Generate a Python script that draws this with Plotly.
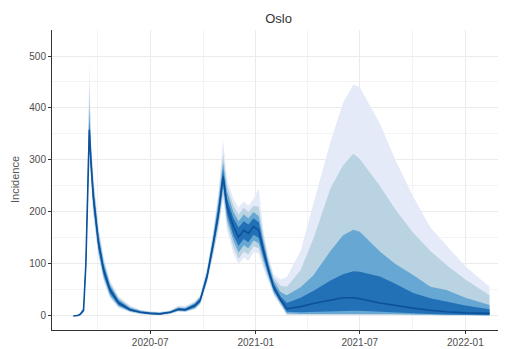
import plotly.graph_objects as go

dates = ["2020-02-18", "2020-02-26", "2020-03-01", "2020-03-07", "2020-03-11", "2020-03-14",
         "2020-03-17", "2020-03-20", "2020-03-24", "2020-04-02", "2020-04-11", "2020-04-22",
         "2020-05-07", "2020-05-27", "2020-06-14", "2020-07-01", "2020-07-18", "2020-08-05",
         "2020-08-19", "2020-08-31", "2020-09-17", "2020-09-26", "2020-10-08", "2020-10-19",
         "2020-10-28", "2020-11-05", "2020-11-12", "2020-11-23", "2020-12-02", "2020-12-11",
         "2020-12-19", "2020-12-28", "2021-01-06", "2021-01-14", "2021-01-23", "2021-02-01",
         "2021-02-13", "2021-02-24", "2021-03-20", "2021-04-11", "2021-05-11", "2021-06-02",
         "2021-06-20", "2021-07-01", "2021-08-05", "2021-09-01", "2021-10-02", "2021-11-01",
         "2021-11-29", "2022-01-01", "2022-02-12"]

median = [0, 1, 3, 11, 100, 230, 358, 294, 229, 140, 88, 50, 25, 12, 7, 5, 4, 7, 13, 12, 20, 30,
          76, 140, 198, 268, 210, 172, 152, 165, 159, 172, 165, 127, 88, 56, 31, 14, 18, 24, 31,
          35, 35, 33, 25, 20, 15, 11, 8, 6, 5]

lo50 = [0, 1, 2, 9, 92, 220, 345, 280, 215, 130, 80, 44, 21, 10, 6, 4, 3, 6, 11, 10, 17, 27, 71,
        132, 188, 255, 195, 155, 135, 148, 142, 156, 150, 116, 80, 50, 27, 8, 7, 8, 9, 10, 10,
        10, 8, 7, 5, 4, 3, 2, 2]
hi50 = [0, 1, 4, 13, 108, 242, 375, 308, 242, 150, 96, 56, 29, 14, 8, 6, 5, 8, 15, 14, 23, 33,
        81, 148, 210, 282, 225, 188, 170, 182, 176, 188, 180, 138, 96, 62, 38, 25, 35, 48, 68,
        80, 86, 85, 76, 62, 44, 34, 28, 20, 13]

lo80 = [0, 0, 2, 8, 88, 212, 335, 272, 207, 124, 75, 40, 19, 9, 5, 3, 3, 5, 10, 9, 15, 25, 68,
        127, 180, 245, 185, 145, 122, 136, 130, 145, 140, 108, 75, 46, 25, 5, 4, 4, 5, 5, 5, 5,
        5, 4, 3, 3, 2, 2, 1]
hi80 = [0, 2, 5, 15, 114, 252, 400, 318, 252, 158, 102, 60, 32, 16, 10, 7, 6, 9, 16, 15, 25, 36,
        84, 154, 220, 295, 238, 200, 182, 195, 188, 200, 192, 146, 102, 68, 46, 40, 55, 78, 125,
        155, 166, 162, 124, 100, 79, 56, 50, 35, 21]

lo95 = [0, 0, 1, 7, 85, 205, 325, 265, 200, 118, 71, 37, 17, 8, 4, 3, 2, 4, 9, 8, 14, 23, 65,
        122, 172, 235, 175, 132, 110, 124, 118, 134, 130, 100, 70, 43, 22, 3, 3, 3, 3, 3, 3, 3,
        3, 2, 2, 2, 1, 1, 1]
hi95 = [0, 2, 5, 16, 118, 262, 440, 328, 262, 165, 108, 64, 35, 18, 11, 8, 7, 10, 18, 17, 27, 38,
        88, 160, 230, 312, 250, 212, 195, 208, 200, 212, 210, 155, 108, 74, 58, 56, 88, 148, 245,
        290, 312, 302, 250, 205, 160, 125, 98, 70, 40]

lo99 = [0, 0, 1, 6, 80, 198, 315, 255, 192, 112, 67, 34, 15, 7, 3, 2, 2, 4, 8, 7, 13, 22, 62,
        117, 165, 225, 165, 120, 100, 112, 106, 122, 120, 92, 65, 40, 20, 2, 2, 2, 2, 2, 2, 2,
        2, 1, 1, 1, 1, 1, 0]
hi99 = [0, 3, 6, 18, 125, 275, 488, 345, 272, 172, 114, 68, 38, 20, 12, 9, 8, 11, 20, 19, 29, 40,
        92, 166, 240, 338, 262, 225, 208, 220, 212, 225, 245, 165, 115, 80, 70, 75, 125, 215, 335,
        410, 445, 440, 370, 300, 230, 170, 135, 95, 56]

band_colors = ["#e4eaf7", "#b9d3e2", "#66a7d3", "#2270b6"]
median_color = "#0d519c"

fig = go.Figure()
bands = [(lo99, hi99), (lo95, hi95), (lo80, hi80), (lo50, hi50)]
for (lo, hi), col in zip(bands, band_colors):
    fig.add_trace(go.Scatter(x=dates, y=lo, mode="lines", line=dict(width=0, color=col),
                             showlegend=False, hoverinfo="skip"))
    fig.add_trace(go.Scatter(x=dates, y=hi, mode="lines", line=dict(width=0, color=col),
                             fill="tonexty", fillcolor=col, showlegend=False, hoverinfo="skip"))
fig.add_trace(go.Scatter(x=dates, y=median, mode="lines",
                         line=dict(width=1.6, color=median_color), showlegend=False))

axis_font = dict(family="Liberation Sans, Arial, sans-serif", size=10, color="#4d4d4d")

# The page body adds an 8px offset; figure coordinates are laid out to compensate.
fig.update_layout(
    width=498, height=341,
    margin=dict(l=44, r=1, t=22, b=19),
    paper_bgcolor="white", plot_bgcolor="white",
    font=dict(family="Liberation Sans, Arial, sans-serif", color="#333333"),
    title=dict(text="Oslo", x=0.5, xref="paper", xanchor="center", y=1 - 10 / 341,
               yref="container", yanchor="middle", font=dict(size=13, color="#333333")),
    xaxis=dict(type="date", range=["2020-01-12", "2022-03-11"],
               tick0="2020-01-01", dtick="M6", tickformat="%Y-%m",
               showgrid=True, gridcolor="#ebebeb", gridwidth=1,
               minor=dict(tick0="2020-01-01", dtick="M3", showgrid=True,
                          gridcolor="#f3f3f3", gridwidth=1),
               showline=True, linecolor="#333333", linewidth=1,
               ticks="outside", ticklen=3, tickcolor="#333333",
               tickfont=axis_font, zeroline=False),
    yaxis=dict(range=[-27, 550], tick0=0, dtick=100,
               showgrid=True, gridcolor="#ebebeb", gridwidth=1,
               minor=dict(tick0=0, dtick=50, showgrid=True, gridcolor="#f3f3f3", gridwidth=1),
               showline=True, linecolor="#333333", linewidth=1,
               ticks="outside", ticklen=3, tickcolor="#333333",
               tickfont=axis_font, zeroline=False),
    annotations=[
        dict(text="Incidence", xref="paper", yref="paper", x=(7 - 44) / 453, y=0.5,
             xanchor="center", yanchor="middle", textangle=-90, showarrow=False,
             font=dict(size=11, color="#555555")),
    ],
)

fig.write_html("out.html")
